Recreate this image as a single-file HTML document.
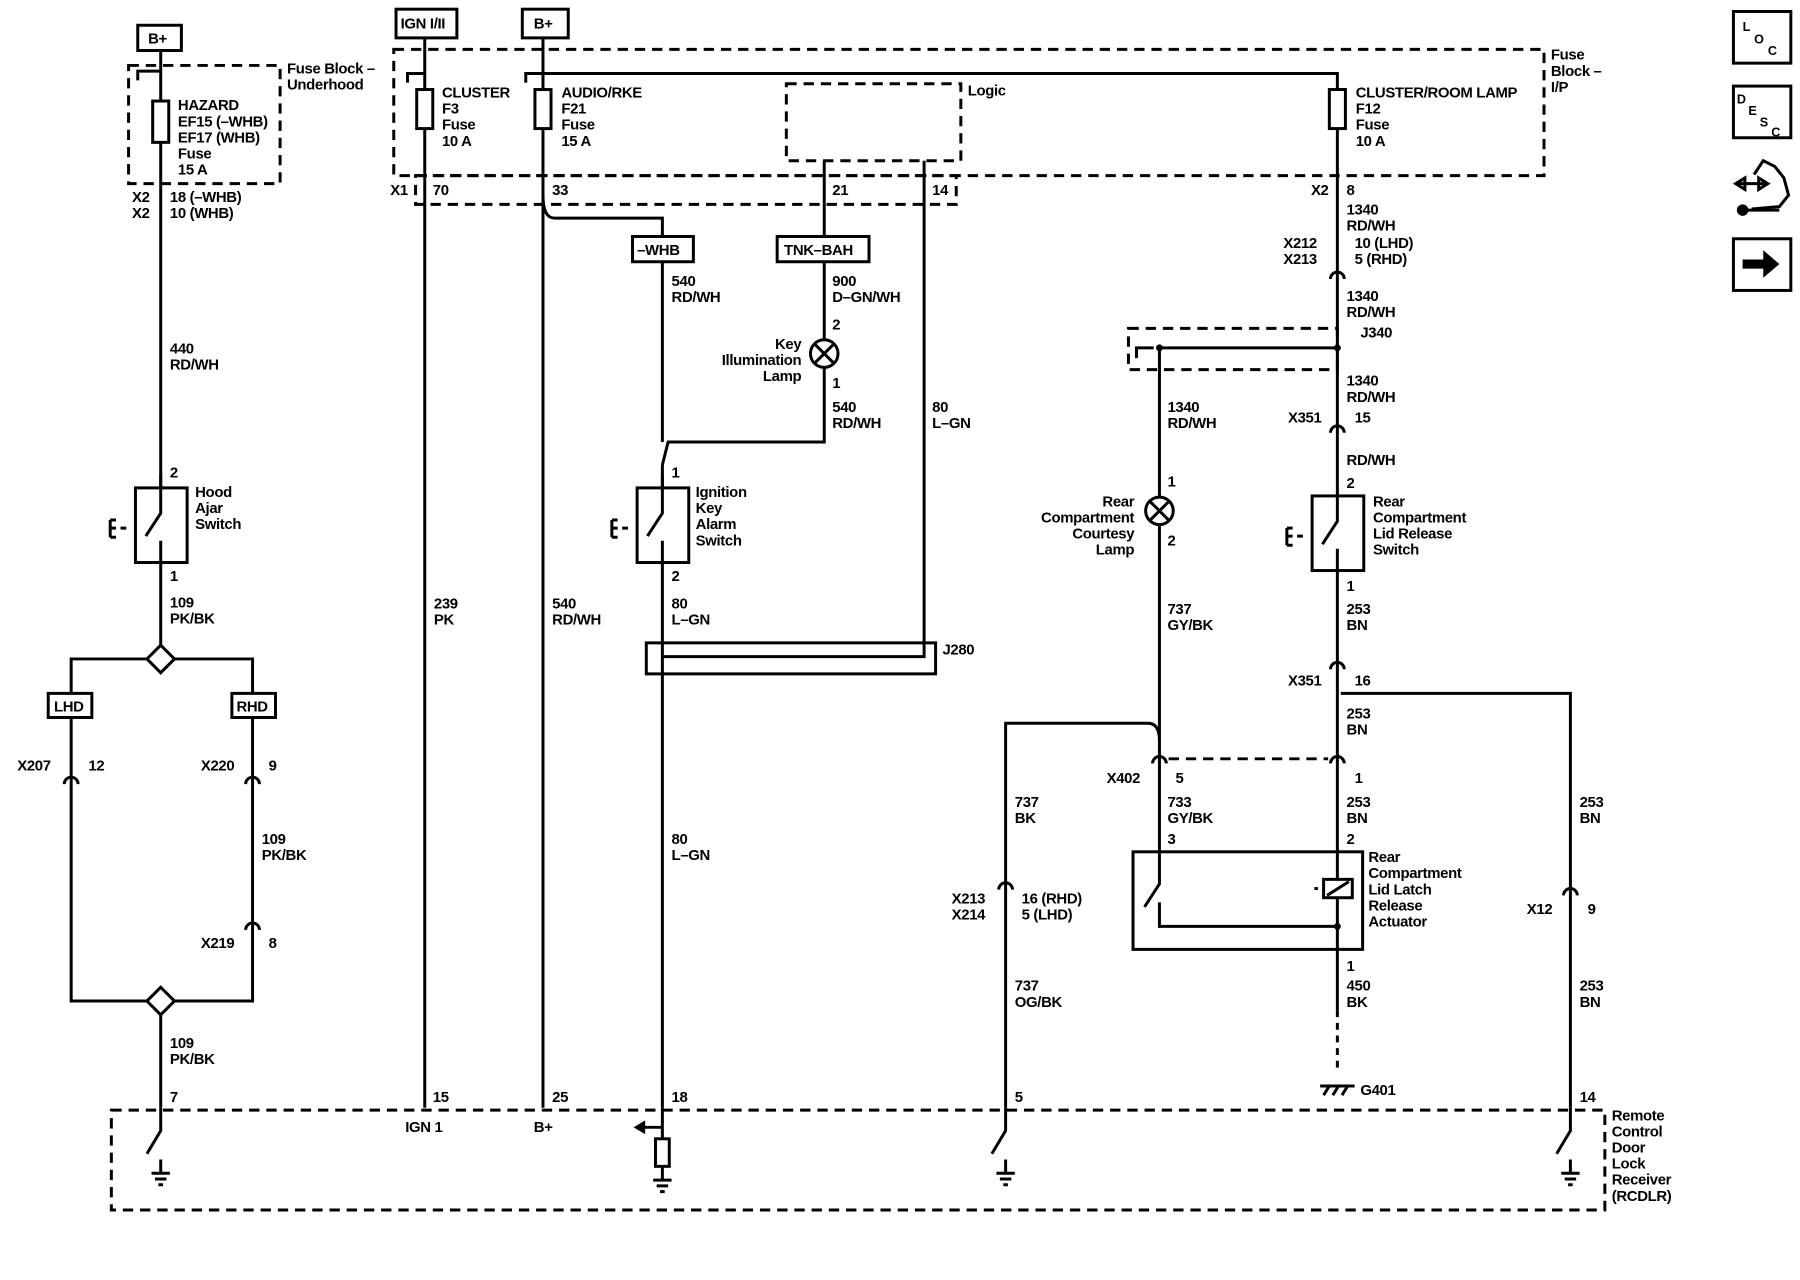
<!DOCTYPE html>
<html><head><meta charset="utf-8"><style>
html,body{margin:0;padding:0;background:#fff;}
svg{display:block;}
text{font-family:"Liberation Sans",Arial,sans-serif;font-size:13px;font-weight:bold;fill:#000;letter-spacing:-0.3px;}
.w{stroke:#000;stroke-width:2.6;fill:none;}
.d{stroke:#000;stroke-width:2.6;fill:none;stroke-dasharray:9,6;}
.b{stroke:#000;stroke-width:2.6;fill:#fff;}
</style></head><body>
<svg width="1800" height="1280" viewBox="0 0 1568 1115" preserveAspectRatio="none" xmlns="http://www.w3.org/2000/svg">
<defs>
<g id="sw"><rect class="w" x="-22" y="0" width="45" height="65"/><path class="w" d="M0 -12V22L-13 42M0 65V46"/><path class="w" d="M-44 35H-28" stroke-dasharray="5,4"/><path class="w" d="M-44 28V43M-44 28h5M-44 43h5"/></g>
<g id="gnd"><path class="w" d="M0 0V12M-8 12H8M-5 17H5M-2 22H2"/></g>
<g id="con"><path class="w" d="M-6 5A6 6 0 0 1 6 5"/></g>
</defs>
<rect width="1568" height="1115" fill="#fff"/>

<!-- right icons -->
<rect class="w" x="1510" y="10" width="50" height="45"/>
<text x="1518" y="27" style="font-size:11px">L</text><text x="1528" y="38" style="font-size:11px">O</text><text x="1540" y="48" style="font-size:11px">C</text>
<rect class="w" x="1510" y="75" width="50" height="45"/>
<text x="1513" y="90" style="font-size:11px">D</text><text x="1523" y="100" style="font-size:11px">E</text><text x="1533" y="110" style="font-size:11px">S</text><text x="1543" y="119" style="font-size:11px">C</text>
<path d="M1512 160H1540M1512 160l8 -5v10zM1540 160l-8 -5v10z" class="w" stroke-width="4"/>
<path class="w" d="M1528 152l8 -12 10 5 8 10 4 15 -8 10 -24 2" stroke-width="2.5"/>
<path class="w" d="M1518 183H1550" stroke-width="5"/><circle cx="1518" cy="183" r="5"/>
<rect class="w" x="1510" y="208" width="50" height="45"/>
<path d="M1518 226H1536V218L1550 230L1536 242V234H1518Z"/>

<!-- left hazard -->
<rect class="b" x="120" y="22" width="38" height="22"/><text x="129" y="38">B+</text>
<rect class="d" x="112" y="57" width="132" height="103"/>
<text x="250" y="64">Fuse Block –</text><text x="250" y="78">Underhood</text>
<path class="w" d="M140 44V425M140 490V562M140 884V965M120 70V62h20"/>
<rect class="b" x="133" y="88" width="14" height="36"/>
<text x="155" y="96">HAZARD</text><text x="155" y="110">EF15 (–WHB)</text><text x="155" y="124">EF17 (WHB)</text><text x="155" y="138">Fuse</text><text x="155" y="152">15 A</text>
<text x="115" y="176">X2</text><text x="148" y="176">18 (–WHB)</text><text x="115" y="190">X2</text><text x="148" y="190">10 (WHB)</text>
<text x="148" y="308">440</text><text x="148" y="322">RD/WH</text>
<text x="148" y="416">2</text>
<use href="#sw" x="140" y="425"/>
<text x="170" y="433">Hood</text><text x="170" y="447">Ajar</text><text x="170" y="461">Switch</text>
<text x="148" y="506">1</text>
<text x="148" y="529">109</text><text x="148" y="543">PK/BK</text>
<path class="w" d="M62 604V574H220V604M62 625V872H128M152 872H220V625"/>
<path class="b" d="M140 562L152 574L140 586L128 574Z"/>
<path class="b" d="M140 860L152 872L140 884L128 872Z"/>
<rect class="b" x="42" y="604" width="38" height="21"/><text x="47" y="620">LHD</text>
<rect class="b" x="202" y="604" width="38" height="21"/><text x="206" y="620">RHD</text>
<use href="#con" x="62" y="678"/><use href="#con" x="220" y="678"/><use href="#con" x="220" y="805"/>
<text x="15" y="671">X207</text><text x="77" y="671">12</text><text x="175" y="671">X220</text><text x="234" y="671">9</text>
<text x="228" y="735">109</text><text x="228" y="749">PK/BK</text>
<text x="175" y="826">X219</text><text x="234" y="826">8</text>
<text x="148" y="913">109</text><text x="148" y="927">PK/BK</text><text x="148" y="960">7</text>

<!-- RCDLR -->
<rect class="d" x="97" y="967" width="1301" height="87"/>
<text x="1404" y="976">Remote</text><text x="1404" y="990">Control</text><text x="1404" y="1004">Door</text><text x="1404" y="1018">Lock</text><text x="1404" y="1032">Receiver</text><text x="1404" y="1046">(RCDLR)</text>
<path class="w" d="M140 965V985L128 1005"/><use href="#gnd" x="140" y="1010"/>
<path class="w" d="M876 965V985L864 1005"/><use href="#gnd" x="876" y="1010"/>
<path class="w" d="M1368 965V985L1356 1005"/><use href="#gnd" x="1368" y="1010"/>

<!-- IP fuse block -->
<rect class="b" x="345" y="8" width="53" height="25"/><text x="349" y="25">IGN I/II</text>
<rect class="b" x="455" y="8" width="40" height="25"/><text x="465" y="25">B+</text>
<rect class="d" x="343" y="43" width="1002" height="110"/>
<text x="1351" y="52">Fuse</text><text x="1351" y="66">Block –</text><text x="1351" y="80">I/P</text>
<path class="w" d="M370 33V64M355 72V64h15M473 33V64M458 72V64h15M473 64H1165V78"/>
<path class="w" d="M370 64V965"/>
<path class="w" d="M473 64V965M473 170Q473 190 483 190H577V206"/>
<rect class="b" x="363" y="78" width="14" height="34"/><rect class="b" x="466" y="78" width="14" height="34"/><rect class="b" x="1158" y="78" width="14" height="34"/>
<text x="385" y="85">CLUSTER</text><text x="385" y="99">F3</text><text x="385" y="113">Fuse</text><text x="385" y="127">10 A</text>
<text x="489" y="85">AUDIO/RKE</text><text x="489" y="99">F21</text><text x="489" y="113">Fuse</text><text x="489" y="127">15 A</text>
<text x="1181" y="85">CLUSTER/ROOM LAMP</text><text x="1181" y="99">F12</text><text x="1181" y="113">Fuse</text><text x="1181" y="127">10 A</text>
<rect class="d" x="685" y="73" width="152" height="67"/><text x="843" y="83">Logic</text>
<rect class="d" x="362" y="153" width="471" height="25"/>
<text x="340" y="170">X1</text><text x="377" y="170">70</text><text x="481" y="170">33</text><text x="725" y="170">21</text><text x="812" y="170">14</text>
<text x="1142" y="170">X2</text><text x="1173" y="170">8</text>
<text x="378" y="530">239</text><text x="378" y="544">PK</text><text x="377" y="960">15</text><text x="353" y="986">IGN 1</text>
<text x="481" y="530">540</text><text x="481" y="544">RD/WH</text><text x="481" y="960">25</text><text x="465" y="986">B+</text>

<!-- middle -->
<rect class="b" x="551" y="206" width="53" height="22"/><text x="555" y="222">–WHB</text>
<path class="w" d="M718 140V206M805 140V572H577"/>
<rect class="b" x="677" y="206" width="80" height="22"/><text x="683" y="222">TNK–BAH</text>
<text x="585" y="249">540</text><text x="585" y="263">RD/WH</text>
<text x="725" y="249">900</text><text x="725" y="263">D–GN/WH</text><text x="725" y="287">2</text>
<path class="w" d="M718 228V296M718 320V385H582L577 405M577 228V385"/>
<circle class="b" cx="718" cy="308" r="12"/><path class="w" d="M710 300L726 316M726 300L710 316"/>
<text x="698" y="304" text-anchor="end">Key</text><text x="698" y="318" text-anchor="end">Illumination</text><text x="698" y="332" text-anchor="end">Lamp</text>
<text x="725" y="338">1</text><text x="725" y="359">540</text><text x="725" y="373">RD/WH</text>
<text x="812" y="359">80</text><text x="812" y="373">L–GN</text>
<text x="585" y="416">1</text>
<path class="w" d="M577 405V425"/>
<use href="#sw" x="577" y="425"/>
<text x="606" y="433">Ignition</text><text x="606" y="447">Key</text><text x="606" y="461">Alarm</text><text x="606" y="475">Switch</text>
<text x="585" y="506">2</text><text x="585" y="530">80</text><text x="585" y="544">L–GN</text>
<path class="w" d="M577 490V965"/>
<rect class="w" x="563" y="560" width="252" height="27"/><text x="821" y="570">J280</text>
<text x="585" y="735">80</text><text x="585" y="749">L–GN</text><text x="585" y="960">18</text>
<path class="w" d="M577 965V992M577 982H560"/><path d="M552 982L562 976V988Z"/>
<rect class="b" x="571" y="992" width="12" height="24"/><use href="#gnd" x="577" y="1016"/>

<!-- right section -->
<path class="w" d="M1165 112V420M1165 497V742"/>
<text x="1173" y="187">1340</text><text x="1173" y="201">RD/WH</text>
<text x="1118" y="216">X212</text><text x="1180" y="216">10 (LHD)</text><text x="1118" y="230">X213</text><text x="1180" y="230">5 (RHD)</text>
<use href="#con" x="1165" y="238"/>
<text x="1173" y="262">1340</text><text x="1173" y="276">RD/WH</text>
<rect class="d" x="983" y="286" width="182" height="36"/><text x="1185" y="294">J340</text>
<path class="w" d="M1010 303H1165M990 312V303h15M1010 303V433M1010 457V645Q1010 630 1000 630H876V965"/>
<circle cx="1010" cy="303" r="3"/><circle cx="1165" cy="303" r="3"/>
<circle class="b" cx="1010" cy="445" r="12"/><path class="w" d="M1002 437L1018 453M1018 437L1002 453"/>
<text x="1017" y="359">1340</text><text x="1017" y="373">RD/WH</text><text x="1017" y="424">1</text><text x="1017" y="475">2</text>
<text x="988" y="441" text-anchor="end">Rear</text><text x="988" y="455" text-anchor="end">Compartment</text><text x="988" y="469" text-anchor="end">Courtesy</text><text x="988" y="483" text-anchor="end">Lamp</text>
<text x="1017" y="535">737</text><text x="1017" y="549">GY/BK</text>
<text x="1173" y="336">1340</text><text x="1173" y="350">RD/WH</text>
<use href="#con" x="1165" y="372"/><text x="1122" y="368">X351</text><text x="1180" y="368">15</text>
<text x="1173" y="405">RD/WH</text><text x="1173" y="425">2</text>
<use href="#sw" x="1165" y="432"/>
<text x="1196" y="441">Rear</text><text x="1196" y="455">Compartment</text><text x="1196" y="469">Lid Release</text><text x="1196" y="483">Switch</text>
<text x="1173" y="515">1</text><text x="1173" y="535">253</text><text x="1173" y="549">BN</text>
<use href="#con" x="1165" y="578"/><text x="1122" y="597">X351</text><text x="1180" y="597">16</text>
<path class="w" d="M1168 604H1368V965"/>
<text x="1173" y="626">253</text><text x="1173" y="640">BN</text>
<use href="#con" x="1010" y="660"/><use href="#con" x="1165" y="660"/>
<path class="d" d="M1018 661H1157" stroke-width="2"/>
<text x="964" y="682">X402</text><text x="1024" y="682">5</text><text x="1180" y="682">1</text>
<text x="884" y="703">737</text><text x="884" y="717">BK</text>
<text x="1017" y="703">733</text><text x="1017" y="717">GY/BK</text><text x="1017" y="735">3</text>
<text x="1173" y="703">253</text><text x="1173" y="717">BN</text><text x="1173" y="735">2</text>
<text x="1376" y="703">253</text><text x="1376" y="717">BN</text>
<use href="#con" x="876" y="770"/>
<text x="829" y="787">X213</text><text x="829" y="801">X214</text><text x="890" y="787">16 (RHD)</text><text x="890" y="801">5 (LHD)</text>
<use href="#con" x="1368" y="775"/><text x="1330" y="796">X12</text><text x="1383" y="796">9</text>
<text x="884" y="863">737</text><text x="884" y="877">OG/BK</text><text x="884" y="960">5</text>
<text x="1376" y="863">253</text><text x="1376" y="877">BN</text><text x="1376" y="960">14</text>
<!-- actuator -->
<rect class="b" x="987" y="742" width="200" height="85"/>
<path class="w" d="M1010 645V770L997 790M1010 786V807H1165M1165 742V880"/>
<circle cx="1165" cy="807" r="3"/>
<rect class="b" x="1153" y="766" width="25" height="16"/><path class="w" d="M1156 780L1175 768"/><path class="w" d="M1145 774h3"/>
<text x="1192" y="751">Rear</text><text x="1192" y="765">Compartment</text><text x="1192" y="779">Lid Latch</text><text x="1192" y="793">Release</text><text x="1192" y="807">Actuator</text>
<text x="1173" y="846">1</text><text x="1173" y="863">450</text><text x="1173" y="877">BK</text>
<path class="w" d="M1165 880V935" stroke-dasharray="6,5"/>
<path class="w" d="M1150 946H1180M1153 954l5 -8M1161 954l5 -8M1169 954l5 -8"/>
<text x="1185" y="954">G401</text>
</svg>
</body></html>
